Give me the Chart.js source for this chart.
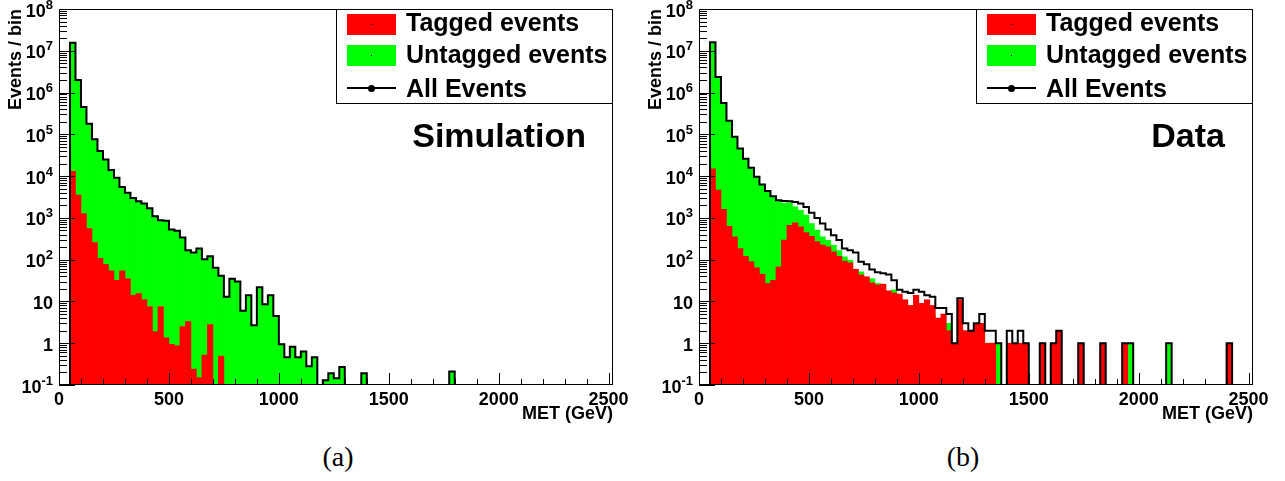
<!DOCTYPE html>
<html>
<head>
<meta charset="utf-8">
<script src="https://cdn.jsdelivr.net/npm/chart.js@4.4.1/dist/chart.umd.min.js"></script>
<style>
  body { margin: 0; width: 1285px; height: 481px; background: #fff; position: relative; overflow: hidden;
         font-family: "Liberation Sans", Arial, sans-serif; font-weight: bold; color: #000; }
  canvas { position: absolute; top: 0; }
  .legend { position: absolute; top: 9px; width: 277px; height: 95px; box-sizing: border-box;
            border: 1px solid #000; background: #fff; }
  .legend .sym { position: absolute; left: 10px; width: 49px; height: 21px; }
  .legend .sym::after { content: ""; position: absolute; left: 24px; top: 10px; width: 1px; height: 1px; background: #000; }
  .legend .line { position: absolute; left: 10px; width: 49px; height: 2px; background: #000; }
  .legend .dot { position: absolute; left: 31px; width: 7px; height: 7px; border-radius: 50%; background: #000; }
  .legend .txt { position: absolute; left: 69px; font-size: 25px; line-height: 25px; white-space: nowrap; }
  .tag { position: absolute; top: 118px; font-size: 34px; line-height: 34px; white-space: nowrap; }
  .cap { position: absolute; top: 441px; width: 100px; text-align: center; font: 28px/32px "Liberation Serif", serif; }
</style>
</head>
<body>
<canvas id="simChart" width="642" height="430" style="left:0px"></canvas>
<canvas id="dataChart" width="642" height="430" style="left:640px"></canvas>

<div class="legend" style="left:336px">
  <div class="sym" style="top:4px;background:#ff0000"></div>
  <div class="txt" style="top:0px">Tagged events</div>
  <div class="sym" style="top:35px;background:#00ff00"></div>
  <div class="txt" style="top:32px">Untagged events</div>
  <div class="line" style="top:77px"></div>
  <div class="dot" style="top:75px"></div>
  <div class="txt" style="top:66px">All Events</div>
</div>
<div class="legend" style="left:976px">
  <div class="sym" style="top:4px;background:#ff0000"></div>
  <div class="txt" style="top:0px">Tagged events</div>
  <div class="sym" style="top:35px;background:#00ff00"></div>
  <div class="txt" style="top:32px">Untagged events</div>
  <div class="line" style="top:77px"></div>
  <div class="dot" style="top:75px"></div>
  <div class="txt" style="top:66px">All Events</div>
</div>
<div class="tag" style="right:699px">Simulation</div>
<div class="tag" style="right:60px">Data</div>
<div class="cap" style="left:288px">(a)</div>
<div class="cap" style="left:913px">(b)</div>

<script>
// MET binning: 25 GeV bins starting at 50 GeV
const firstBinLow = 50;
const binWidth = 25;

const xTicks = [0, 500, 1000, 1500, 2000, 2500];
const yTicks = [0.1, 1, 10, 100, 1e3, 1e4, 1e5, 1e6, 1e7, 1e8];
// [base, exponent] for each y tick label
const yTickLabels = [['10', '-1'], ['1', ''], ['10', ''], ['10', '2'], ['10', '3'],
                     ['10', '4'], ['10', '5'], ['10', '6'], ['10', '7'], ['10', '8']];

// (a) Simulation
const simTagged = [
  1.3e4, 3500, 1260, 556, 257, 107, 77, 54, 32, 54,
  35, 14, 15.5, 11, 7.5, 1.9, 7.5, 1.35, 0.94, 0.87,
  2.5, 3.3, 0.24, 0.15, 0.52, 2.8, 0, 0.49, 0, 0,
  0, 0, 0, 0, 0, 0, 0, 0, 0, 0,
  0, 0, 0, 0, 0, 0, 0, 0, 0, 0,
  0, 0, 0, 0, 0, 0, 0, 0, 0, 0,
  0, 0, 0, 0, 0, 0, 0, 0, 0, 0,
  0, 0, 0, 0, 0, 0, 0, 0, 0, 0,
  0, 0, 0, 0, 0, 0, 0, 0, 0, 0,
  0, 0, 0, 0, 0, 0, 0, 0
];
const simUntagged = [
  1.55e7, 2.0e6, 4.5e5, 1.8e5, 7.6e4, 4.0e4, 2.5e4, 1.4e4, 9070, 5450,
  3965, 2986, 2485, 2189, 1692, 1098, 872, 859, 525, 488,
  336, 166, 148, 185, 102, 118, 64, 40.5, 13, 35,
  30, 6, 14, 2.7, 22, 8.6, 14, 4.5, 0.95, 0.46,
  0.82, 0.46, 0.63, 0.28, 0.46, 0, 0.13, 0.19, 0.145, 0.27,
  0, 0, 0, 0.19, 0, 0, 0, 0, 0, 0,
  0, 0, 0, 0, 0, 0, 0, 0, 0, 0.21,
  0, 0, 0, 0, 0, 0, 0, 0, 0, 0,
  0, 0, 0, 0, 0, 0, 0, 0, 0, 0,
  0, 0, 0, 0, 0, 0, 0, 0
];
const simAll = [
  1.55e7, 2.0e6, 4.5e5, 1.8e5, 7.6e4, 4.0e4, 2.5e4, 1.4e4, 9100, 5500,
  4000, 3000, 2500, 2200, 1700, 1100, 880, 860, 526, 489,
  339, 169, 148, 185, 103, 121, 64, 41, 13, 35,
  30, 6, 14, 2.7, 22, 8.6, 14, 4.5, 0.95, 0.46,
  0.82, 0.46, 0.63, 0.28, 0.46, 0, 0.13, 0.19, 0.145, 0.27,
  0, 0, 0, 0.19, 0, 0, 0, 0, 0, 0,
  0, 0, 0, 0, 0, 0, 0, 0, 0, 0.21,
  0, 0, 0, 0, 0, 0, 0, 0, 0, 0,
  0, 0, 0, 0, 0, 0, 0, 0, 0, 0,
  0, 0, 0, 0, 0, 0, 0, 0
];

// (b) Data
const dataTagged = [
  1.5e4, 4600, 1600, 630, 350, 185, 121, 89, 64, 45,
  27, 32, 67, 294, 660, 760, 610, 446, 363, 271,
  222, 203, 155, 121, 92, 84, 59, 43, 39, 28,
  25, 26, 18, 16, 15, 11, 8, 14, 9, 11,
  8, 4, 5, 2, 1, 11, 2, 2, 3, 3,
  1, 1, 0, 0, 1, 1, 1, 1, 0, 0,
  1, 0, 1, 2, 0, 0, 0, 1, 0, 0,
  0, 1, 0, 0, 0, 1, 0, 0, 0, 0,
  0, 0, 0, 0, 0, 0, 0, 0, 0, 0,
  0, 0, 0, 0, 1, 0, 0, 0
];
const dataUntagged = [
  1.6e7, 2.35e6, 5.6e5, 2.1e5, 8.7e4, 4.6e4, 2.6e4, 1.57e4, 9500, 6250,
  4370, 3270, 2580, 2250, 2300, 1830, 1520, 1160, 730, 510,
  350, 290, 220, 165, 117, 97, 56, 51, 35, 35,
  27, 24, 17, 19, 4, 6, 8, 5, 8, 3,
  5, 3, 2, 3, 0, 1, 1, 0, 0, 2,
  1, 1, 1, 0, 1, 0, 1, 0, 0, 0,
  0, 0, 0, 0, 0, 0, 0, 0, 0, 0,
  0, 0, 0, 0, 0, 0, 1, 0, 0, 0,
  0, 0, 0, 1, 0, 0, 0, 0, 0, 0,
  0, 0, 0, 0, 0, 0, 0, 0
];
const dataAll = [
  1.6e7, 2.35e6, 5.6e5, 2.1e5, 8.7e4, 4.6e4, 2.6e4, 1.58e4, 9600, 6300,
  4400, 3300, 2650, 2550, 2500, 2400, 2200, 1820, 1320, 1000,
  733, 525, 385, 294, 185, 168, 149, 89, 78, 58,
  50, 47, 44, 32, 19, 17, 16, 19, 17, 14,
  13, 7, 7, 5, 1, 12, 3, 2, 3, 5,
  2, 2, 1, 0, 2, 1, 2, 1, 0, 0,
  1, 0, 1, 2, 0, 0, 0, 1, 0, 0,
  0, 1, 0, 0, 0, 1, 1, 0, 0, 0,
  0, 0, 0, 1, 0, 0, 0, 0, 0, 0,
  0, 0, 0, 0, 1, 0, 0, 0
];

const Y_MIN = 0.1;
const Y_MAX = 1e8;
const X_MAX = 2520;
const FONT = '"Liberation Sans", Arial, sans-serif';

function bars(vals) {
  return vals.map((v, i) => ({ x: firstBinLow + binWidth * (i + 0.5), y: v > 0 ? v : null }));
}

// step outline of a histogram, empty bins sit on the axis floor like ROOT draws them
function outline(vals) {
  const pts = [{ x: firstBinLow, y: Y_MIN }];
  vals.forEach((v, i) => {
    const lo = firstBinLow + binWidth * i;
    const yv = v > 0 ? v : Y_MIN;
    pts.push({ x: lo, y: yv }, { x: lo + binWidth, y: yv });
  });
  return pts;
}

// ROOT style frame with tick marks pointing inwards + 10^n labels
const frameTicks = {
  id: 'frameTicks',
  afterDatasetsDraw(chart) {
    const { ctx, chartArea: a, scales: { x, y } } = chart;
    ctx.save();
    ctx.strokeStyle = '#000';
    ctx.lineWidth = 1;
    ctx.beginPath();
    for (let e = -1; e < 8; e++) {
      for (let k = 1; k <= 9; k++) {
        const py = Math.round(y.getPixelForValue(k * Math.pow(10, e))) + 0.5;
        const len = k === 1 ? 16 : 8;
        ctx.moveTo(a.left, py);
        ctx.lineTo(a.left + len, py);
      }
    }
    for (let v = 0; v <= 2500; v += 100) {
      const px = Math.round(x.getPixelForValue(v)) + 0.5;
      const len = v % 500 === 0 ? 12 : 6;
      ctx.moveTo(px, a.bottom);
      ctx.lineTo(px, a.bottom - len);
    }
    ctx.stroke();
    ctx.strokeRect(a.left + 0.5, a.top + 0.5, a.right - a.left - 1, a.bottom - a.top - 1);

    ctx.fillStyle = '#000';
    ctx.textAlign = 'right';
    ctx.textBaseline = 'alphabetic';
    const right = a.left - 6;
    y.ticks.forEach((t, i) => {
      const py = y.getPixelForValue(t.value);
      const [base, exp] = yTickLabels[i];
      let ew = 0;
      if (exp) {
        ctx.font = 'bold 13px ' + FONT;
        ctx.fillText(exp, right, py - 0.5);
        ew = ctx.measureText(exp).width;
      }
      ctx.font = 'bold 18px ' + FONT;
      ctx.fillText(base, right - ew, py + 7.5);
    });
    ctx.restore();
  }
};

function drawPanel(id, tagged, untagged, all) {
  return new Chart(document.getElementById(id), {
    type: 'bar',
    data: {
      datasets: [
        { type: 'line', label: 'All Events', data: outline(all), borderColor: '#000', borderWidth: 2,
          pointRadius: 0, fill: false, tension: 0, order: 0 },
        { label: 'Tagged events', data: bars(tagged), backgroundColor: '#ff0000', order: 1 },
        { label: 'Untagged events', data: bars(untagged), backgroundColor: '#00ff00', order: 2 }
      ]
    },
    options: {
      responsive: false,
      animation: false,
      layout: { padding: { top: 9, right: 29, bottom: 5, left: 0 } },
      datasets: { bar: { grouped: false, barPercentage: 1, categoryPercentage: 1, borderWidth: 0 } },
      plugins: { legend: { display: false }, tooltip: { enabled: false } },
      scales: {
        x: {
          type: 'linear', min: 0, max: X_MAX, offset: false,
          grid: { display: false, drawTicks: false, offset: false },
          border: { display: false },
          afterBuildTicks: s => { s.ticks = xTicks.map(v => ({ value: v })); },
          afterFit: s => { s.height = 40; },
          ticks: { color: '#000', font: { family: FONT, size: 18, weight: 'bold' }, padding: 4,
                   maxRotation: 0, autoSkip: false, callback: v => String(v) },
          title: { display: true, text: 'MET (GeV)', align: 'end', color: '#000',
                   font: { family: FONT, size: 18, weight: 'bold' }, padding: { top: 0, bottom: 0 } }
        },
        y: {
          type: 'logarithmic', min: Y_MIN, max: Y_MAX,
          grid: { display: false, drawTicks: false },
          border: { display: false },
          afterBuildTicks: s => { s.ticks = yTicks.map(v => ({ value: v })); },
          afterFit: s => { s.width = 59; },
          ticks: { display: false },
          title: { display: true, text: 'Events / bin', align: 'end', color: '#000',
                   font: { family: FONT, size: 18, weight: 'bold' }, padding: { top: 5, bottom: 0 } }
        }
      }
    },
    plugins: [frameTicks]
  });
}

drawPanel('simChart', simTagged, simUntagged, simAll);
drawPanel('dataChart', dataTagged, dataUntagged, dataAll);
</script>
</body>
</html>
